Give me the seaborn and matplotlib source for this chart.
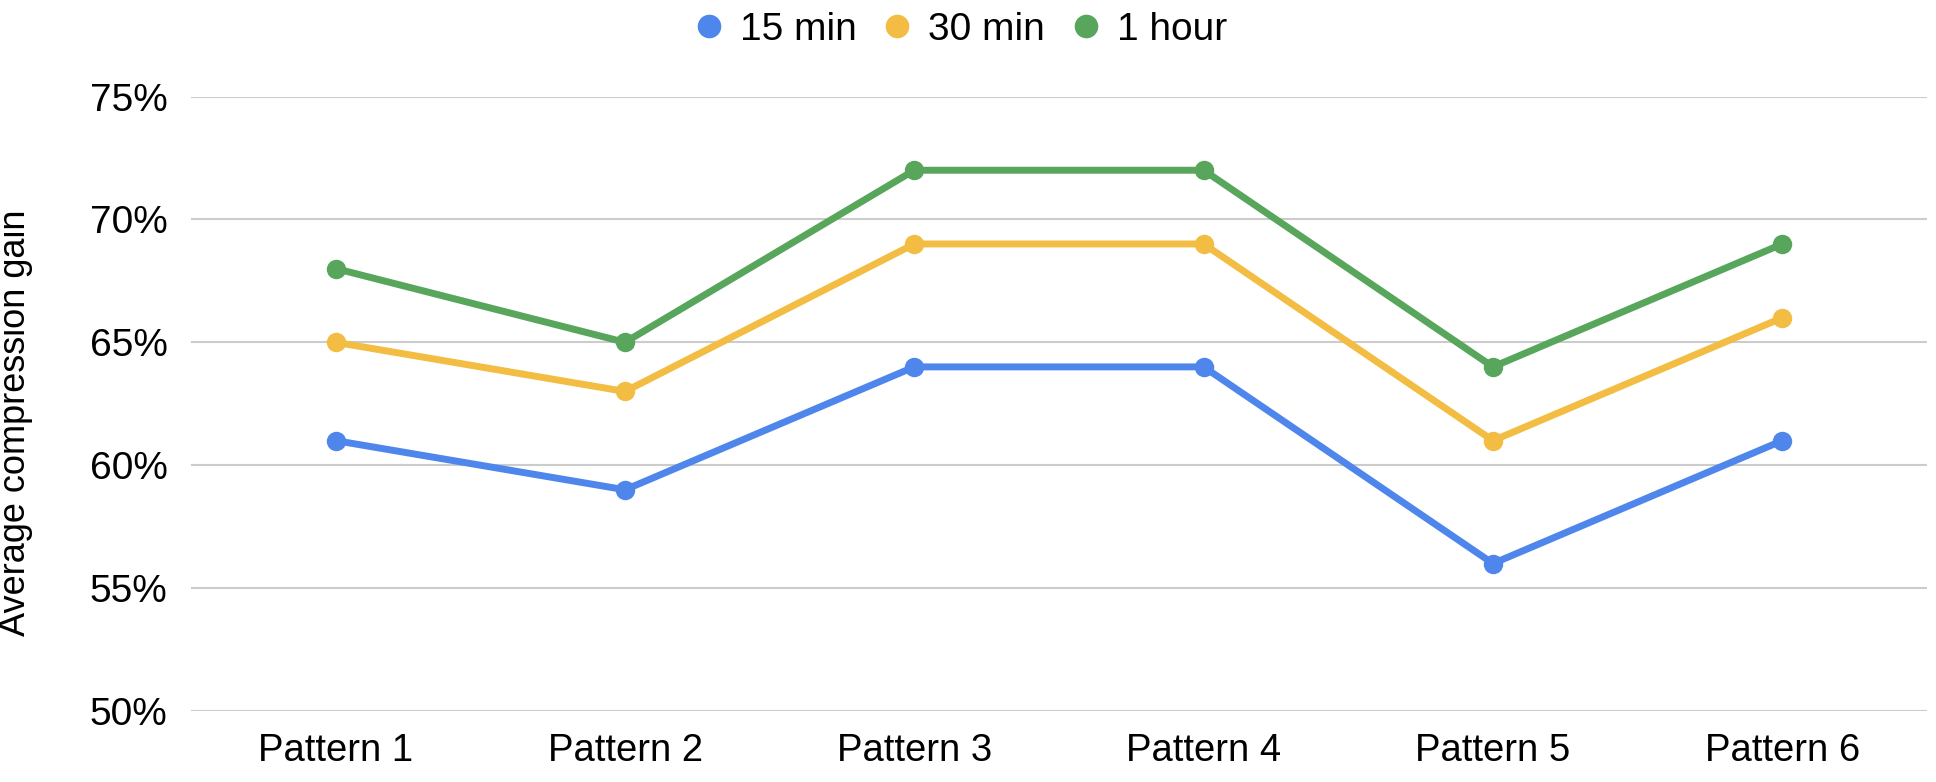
import matplotlib
matplotlib.use("Agg")
import matplotlib.pyplot as plt
import seaborn as sns
import pandas as pd
from matplotlib.lines import Line2D
from matplotlib.ticker import FuncFormatter

# ---- data ----
patterns = ["Pattern 1", "Pattern 2", "Pattern 3", "Pattern 4", "Pattern 5", "Pattern 6"]
series_names = ["15 min", "30 min", "1 hour"]
gain_15min = [61, 59, 64, 64, 56, 61]
gain_30min = [65, 63, 69, 69, 61, 66]
gain_1hour = [68, 65, 72, 72, 64, 69]
y_ticks = [50, 55, 60, 65, 70, 75]
y_label = "Average compression gain"

colors = ["#4F86EC", "#F2BD42", "#58A55C"]
text_color = "#000000"

sns.set_theme(style="white")
plt.rcParams['font.family'] = ['Liberation Sans', 'DejaVu Sans']

rows = []
for name, vals in zip(series_names, [gain_15min, gain_30min, gain_1hour]):
    for p, v in zip(patterns, vals):
        rows.append({"pattern": p, "gain": v, "series": name})
df = pd.DataFrame(rows)
df["x"] = df["pattern"].map({p: i for i, p in enumerate(patterns)})

fig = plt.figure(figsize=(19.36, 7.82), dpi=100)
ax = fig.add_axes([191 / 1936, 1 - 711 / 782, (1927 - 191) / 1936, (711 - 96.5) / 782])

sns.lineplot(data=df, x="x", y="gain", hue="series", hue_order=series_names,
             palette=colors, marker="o", markersize=14, markeredgewidth=0,
             linewidth=5, ax=ax, legend=False, sort=False, zorder=3)

ax.set_xlim(-0.5, len(patterns) - 0.5)
ax.set_ylim(y_ticks[0], y_ticks[-1])
ax.set_xticks(range(len(patterns)))
ax.set_xticklabels(patterns)
ax.set_yticks(y_ticks)
ax.yaxis.set_major_formatter(FuncFormatter(lambda v, _: f"{v:.0f}%"))
ax.tick_params(axis="both", length=0, labelsize=28, labelcolor=text_color)
ax.tick_params(axis="y", pad=17)
ax.tick_params(axis="x", pad=16, labelsize=27.5)
ax.yaxis.grid(True, color="#CCCCCC", linewidth=1.5, zorder=0)
ax.xaxis.grid(False)
for s in ax.spines.values():
    s.set_visible(False)
ax.set_xlabel("")
ax.set_ylabel(y_label, fontsize=26, color=text_color)
ax.yaxis.set_label_coords((33 - 191) / (1927 - 191), (1 - 423 / 782 - (1 - 711 / 782)) / ((711 - 96.5) / 782))

handles = [Line2D([0], [0], marker="o", linestyle="none", markersize=17,
                  markerfacecolor=c, markeredgewidth=0) for c in colors]
leg = fig.legend(handles, series_names, loc="center", bbox_to_anchor=(0.497, 1 - 30 / 782),
                 ncol=3, frameon=False, fontsize=28, handlelength=0.6,
                 handletextpad=0.5, columnspacing=0.75, borderpad=0, borderaxespad=0)
for t in leg.get_texts():
    t.set_color(text_color)

fig.savefig("out.png", dpi=100)
